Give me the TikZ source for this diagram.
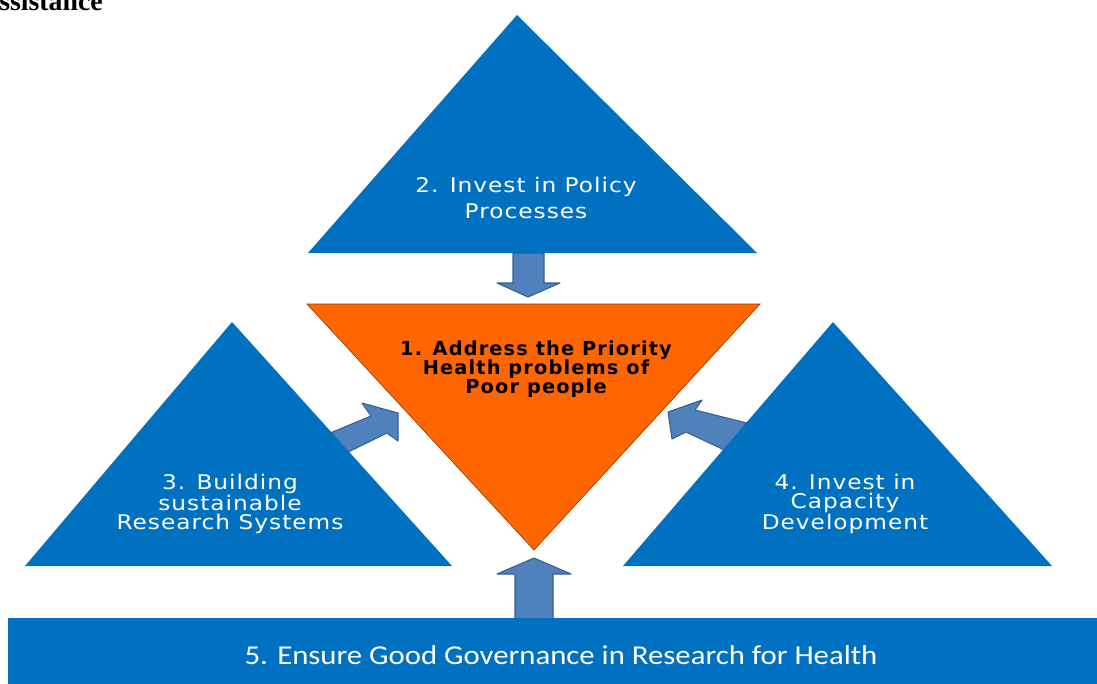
\documentclass[tikz,border=0pt]{standalone}
\usepackage{fontspec}
\setmainfont{Liberation Serif}
\newfontfamily\trifont[FakeStretch=1.15,LetterSpace=5]{DejaVu Sans}
\newfontfamily\prifont[LetterSpace=6]{DejaVu Sans}
\newfontfamily\govfont[FakeStretch=1.13]{Carlito}
\definecolor{triblue}{RGB}{0,112,192}
\definecolor{priorange}{RGB}{255,102,0}
\definecolor{arrowblue}{RGB}{79,129,189}
\definecolor{arrowline}{RGB}{56,93,138}
\tikzset{
  tri/.style={fill=triblue},
  blockarrow/.style={fill=arrowblue,draw=arrowline,line width=0.6pt,line join=round},
  trilabel/.style={text=white,align=center,inner sep=0pt,
    font=\trifont\fontsize{11.5}{10.6}\selectfont}
}
\begin{document}
\begin{tikzpicture}[x=0.02cm,y=-0.02cm]
\clip (0,0) rectangle (1097,683);
\node[anchor=base west,inner sep=0pt,font=\bfseries\fontsize{15.8}{18}\selectfont] (title) at (-1,10) {ssistance};
% block arrows
\draw[blockarrow] (513,253) -- (544,253) -- (544,283) -- (560,283) -- (528,297) -- (497,283) -- (513,283) -- cycle;
\draw[blockarrow] (515,625) -- (553,625) -- (553,574) -- (571,574) -- (534,558) -- (497,574) -- (515,574) -- cycle;
\draw[blockarrow] (318,438) -- (371,416) -- (362,403) -- (398,413) -- (398,441) -- (387,433) -- (338,457) -- cycle;
\draw[blockarrow] (755,425) -- (695,410) -- (702,400) -- (668,412) -- (672,439) -- (686,432) -- (735,455) -- cycle;
% triangles
\fill[tri] (308,253) -- (517,15) -- (757,253) -- cycle;
\fill[tri] (25,566) -- (232,322) -- (452,566) -- cycle;
\fill[tri] (623,566) -- (833,322) -- (1052,566) -- cycle;
\draw[fill=priorange,draw=priorange!60!black,line width=0.4pt] (307,304) -- (760,304) -- (534,550) -- cycle;
\fill[triblue] (8,618) rectangle (1110,700);
% labels
\node[trilabel] (policy) at (526,198) {2. Invest in Policy\\[3pt]Processes};
\node[trilabel] (research) at (230,504) {3. Building\\sustainable\\Research Systems};
\node[trilabel] (capacity) at (845,504) {4. Invest in\\Capacity\\Development};
\node[align=center,inner sep=0pt,font=\prifont\bfseries\fontsize{11}{11}\selectfont] (priority) at (536,369) {1. Address the Priority\\Health problems of\\Poor people};
\node[text=white,inner sep=0pt,font=\govfont\fontsize{15.5}{17}\selectfont] (governance) at (561,655) {5. Ensure Good Governance in Research for Health};
\end{tikzpicture}
\end{document}
